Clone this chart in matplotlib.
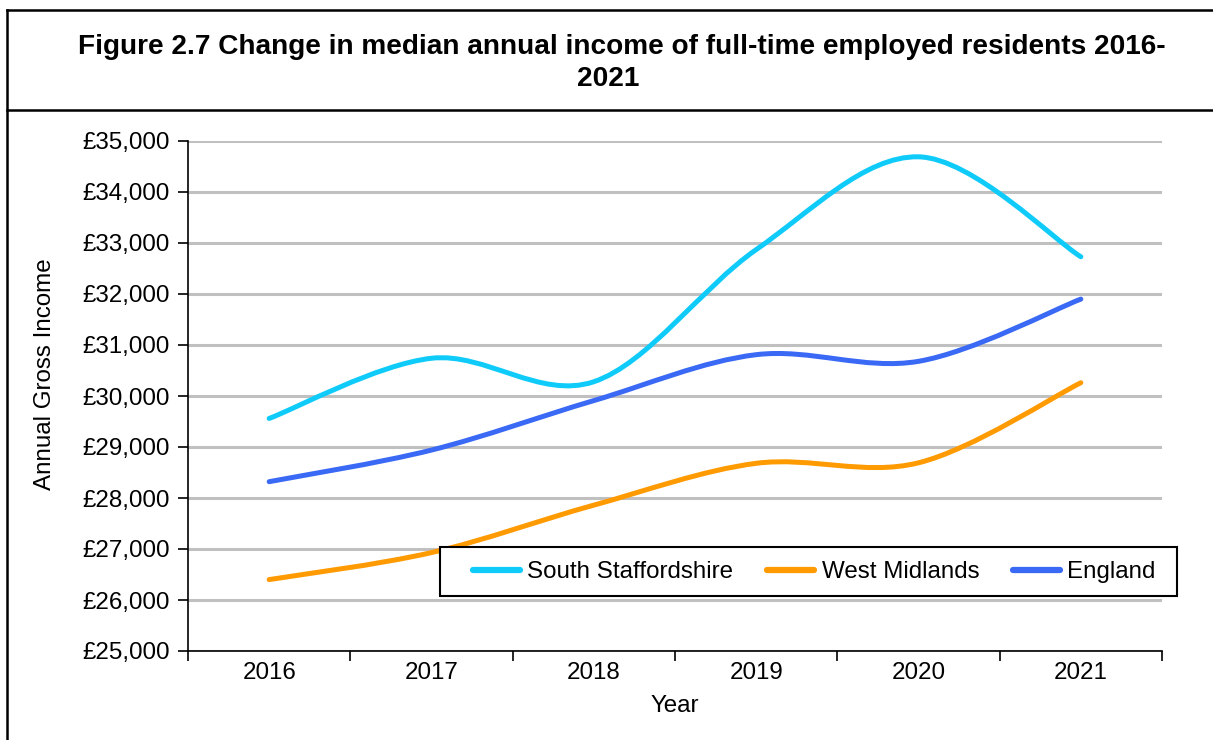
import matplotlib
matplotlib.use("Agg")
import matplotlib.pyplot as plt
import numpy as np
from matplotlib.path import Path
from matplotlib.patches import PathPatch, Rectangle
from matplotlib.lines import Line2D

plt.rcParams['font.family'] = ['Liberation Sans', 'DejaVu Sans']

years = ['2016', '2017', '2018', '2019', '2020', '2021']
south_staffs = [29560, 30740, 30280, 32870, 34690, 32730]
west_midlands = [26400, 26930, 27860, 28680, 28690, 30260]
england = [28320, 28940, 29910, 30810, 30680, 31900]

series = [
    ('South Staffordshire', south_staffs, '#0FCBFA'),
    ('West Midlands', west_midlands, '#FF9A00'),
    ('England', england, '#3A69F5'),
]


def smooth_path(x, y):
    # Excel-style smoothed line: cubic Bezier segments through each point
    pts = np.column_stack([x, y]).astype(float)
    n = len(pts)
    verts = [pts[0]]
    codes = [Path.MOVETO]
    for i in range(n - 1):
        p0 = pts[max(i - 1, 0)]
        p1 = pts[i]
        p2 = pts[i + 1]
        p3 = pts[min(i + 2, n - 1)]
        c1 = p1 + (p2 - p0) / 6.0
        c2 = p2 - (p3 - p1) / 6.0
        verts += [c1, c2, p2]
        codes += [Path.CURVE4] * 3
    return Path(verts, codes)


W, H = 1213, 740
fig = plt.figure(figsize=(W / 100, H / 100), dpi=100)
ax = fig.add_axes([188 / W, 1 - 651 / H, (1162 - 188) / W, (651 - 141) / H])

x = np.arange(len(years)) + 0.5
handles = []
for name, vals, col in series:
    patch = PathPatch(smooth_path(x, vals), facecolor='none', edgecolor=col,
                      lw=3.6, capstyle='round', joinstyle='round', zorder=3)
    ax.add_patch(patch)
    handles.append(Line2D([], [], color=col, lw=4.5, solid_capstyle='round'))

ax.set_xlim(0, len(years))
ax.set_ylim(25000, 35000)
ax.set_yticks(np.arange(25000, 35001, 1000))
ax.set_yticklabels([f'£{v:,}' for v in range(25000, 35001, 1000)], fontsize=17.4)
ax.set_xticks(np.arange(len(years) + 1))
ax.set_xticklabels([])
ax.set_xticks(x, minor=True)
ax.set_xticklabels(years, minor=True, fontsize=17.4)
ax.tick_params(axis='x', which='minor', length=0, pad=8)
ax.tick_params(axis='x', which='major', length=7, width=1.2, direction='out')
ax.tick_params(axis='y', length=7, width=1.2, direction='out', pad=6)

ax.grid(axis='y', color='#C0C0C0', lw=2.2)
ax.set_axisbelow(True)
for s in ['top', 'right']:
    ax.spines[s].set_visible(False)
for s in ['left', 'bottom']:
    ax.spines[s].set_linewidth(1.2)
    ax.spines[s].set_zorder(4)

ax.set_xlabel('Year', fontsize=17.4, labelpad=8)
fig.text(45 / W, 1 - 374 / H, 'Annual Gross Income', rotation=90,
         ha='center', va='center', fontsize=17.4)

# legend box drawn separately so the padding can match the original
fig.add_artist(Rectangle((440 / W, 1 - 596 / H), (1177 - 440) / W, 49 / H,
                         transform=fig.transFigure, facecolor='white',
                         edgecolor='black', lw=1.5, zorder=5))
leg = fig.legend(handles, [s[0] for s in series], ncol=3, fontsize=17.4,
                 loc='center left', bbox_to_anchor=(473 / W, 1 - 572 / H),
                 frameon=False, handlelength=1.95, handletextpad=0.3,
                 columnspacing=1.4, borderpad=0, borderaxespad=0)
leg.set_zorder(6)

# title and panel borders
fig.text(622 / W, 1 - 47 / H, 'Figure 2.7 Change in median annual income of full-time employed residents 2016-',
         ha='center', va='center', fontsize=20.2, fontweight='bold')
fig.text(608 / W, 1 - 79 / H, '2021', ha='center', va='center', fontsize=20.2, fontweight='bold')
for yy in [10, 110]:
    fig.add_artist(Line2D([7 / W, 1], [1 - yy / H] * 2, color='black', lw=1.8))
fig.add_artist(Line2D([7 / W] * 2, [1 - 10 / H, 0], color='black', lw=1.8))

fig.savefig('out.png', dpi=100)
